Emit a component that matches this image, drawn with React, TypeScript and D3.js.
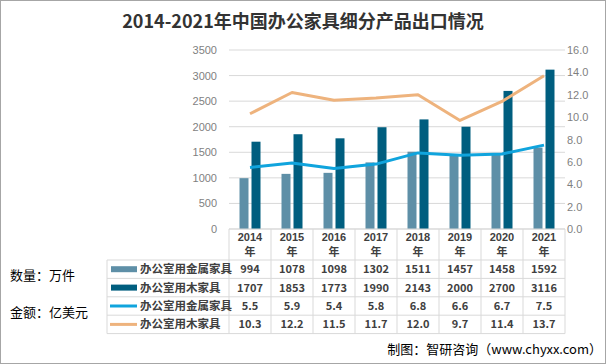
import React from 'react';
import * as d3 from 'd3';

const years = ['2014', '2015', '2016', '2017', '2018', '2019', '2020', '2021'];
const metalQty = [994, 1078, 1098, 1302, 1511, 1457, 1458, 1592];
const woodQty = [1707, 1853, 1773, 1990, 2143, 2000, 2700, 3116];
const metalValue = [5.5, 5.9, 5.4, 5.8, 6.8, 6.6, 6.7, 7.5];
const woodValue = [10.3, 12.2, 11.5, 11.7, 12.0, 9.7, 11.4, 13.7];
const leftTicks = [0, 500, 1000, 1500, 2000, 2500, 3000, 3500];
const rightTicks = [0, 2, 4, 6, 8, 10, 12, 14, 16];

const W = 606;
const H = 364;
const margin = { top: 50, left: 229, right: 41, bottom: 135 };
const plotBottom = H - margin.bottom;
const plotRight = W - margin.right;

const FONT = '"Liberation Sans", "Noto Sans CJK SC", sans-serif';
const CJK = '"Noto Sans CJK SC", sans-serif';

const cMetal = '#5E8FA7';
const cWood = '#005E7F';
const cMetalLine = '#10A4DD';
const cWoodLine = '#EEB37D';
const gridC = '#D9D9D9';

const App = () => {
	const xScale = d3.scaleBand().domain(years).range([margin.left, plotRight]);
	const yLeft = d3.scaleLinear().domain([0, 3500]).range([plotBottom, margin.top]);
	const yRight = d3.scaleLinear().domain([0, 16]).range([plotBottom, margin.top]);
	const bw = xScale.bandwidth();
	const barW = 9;
	const cx = (y: string) => xScale(y)! + bw / 2;

	const line = d3
		.line<number>()
		.x((d, i) => cx(years[i]))
		.y((d) => yRight(d));

	// table rows
	const headerBottom = 260;
	const rowH = 18.4;
	const rows = [
		{ name: '办公室用金属家具', kind: 'bar', color: cMetal, vals: metalQty.map(String) },
		{ name: '办公室用木家具', kind: 'bar', color: cWood, vals: woodQty.map(String) },
		{ name: '办公室用金属家具', kind: 'line', color: cMetalLine, vals: metalValue.map((v) => v.toFixed(1)) },
		{ name: '办公室用木家具', kind: 'line', color: cWoodLine, vals: woodValue.map((v) => v.toFixed(1)) },
	];
	const tableLeft = 107;
	const tableBottom = headerBottom + rowH * rows.length;

	return (
		<div style={{ position: 'absolute', left: 0, top: 0 }}>
			<svg width={W} height={H} style={{ display: 'block', background: '#fff' }}>
				<rect x={0.5} y={0.5} width={W - 1} height={H - 1} fill='#fff' stroke='#A6A6A6' />
				{/* title */}
				<text
					x={W / 2}
					y={28}
					textAnchor='middle'
					fontFamily={CJK}
					fontWeight='bold'
					fontSize={18}
					fill='#333'
				>
					2014-2021年中国办公家具细分产品出口情况
				</text>

				{/* gridlines */}
				{leftTicks.map((t) => (
					<line
						key={'g' + t}
						x1={margin.left}
						x2={plotRight}
						y1={yLeft(t)}
						y2={yLeft(t)}
						stroke={gridC}
					/>
				))}

				{/* left axis labels */}
				{leftTicks.map((t) => (
					<text
						key={'l' + t}
						x={217}
						y={yLeft(t) + 4}
						textAnchor='end'
						fontFamily={FONT}
						fontSize={11}
						fill='#7F7F7F'
					>
						{t}
					</text>
				))}
				{/* right axis labels */}
				{rightTicks.map((t) => (
					<text
						key={'r' + t}
						x={567}
						y={yRight(t) + 4}
						textAnchor='start'
						fontFamily={FONT}
						fontSize={11}
						fill='#7F7F7F'
					>
						{t.toFixed(1)}
					</text>
				))}

				{/* bars */}
				{years.map((y, i) => (
					<g key={'b' + y}>
						<rect
							x={cx(y) - 1.5 - barW}
							y={yLeft(metalQty[i])}
							width={barW}
							height={plotBottom - yLeft(metalQty[i])}
							fill={cMetal}
						/>
						<rect
							x={cx(y) + 1.5}
							y={yLeft(woodQty[i])}
							width={barW}
							height={plotBottom - yLeft(woodQty[i])}
							fill={cWood}
						/>
					</g>
				))}

				{/* lines */}
				<path d={line(woodValue)!} fill='none' stroke={cWoodLine} strokeWidth={3} strokeLinejoin='round' />
				<path d={line(metalValue)!} fill='none' stroke={cMetalLine} strokeWidth={3} strokeLinejoin='round' />

				{/* data table */}
				<g>
					<line x1={margin.left} x2={plotRight} y1={plotBottom} y2={plotBottom} stroke={gridC} />
					{xScale.domain().map((y) => (
						<line
							key={'v' + y}
							x1={xScale(y)}
							x2={xScale(y)}
							y1={plotBottom}
							y2={tableBottom}
							stroke={gridC}
						/>
					))}
					<line x1={plotRight} x2={plotRight} y1={plotBottom} y2={tableBottom} stroke={gridC} />
					<line x1={tableLeft} x2={tableLeft} y1={headerBottom} y2={tableBottom} stroke={gridC} />
					{d3.range(rows.length + 1).map((r) => (
						<line
							key={'h' + r}
							x1={tableLeft}
							x2={plotRight}
							y1={headerBottom + r * rowH}
							y2={headerBottom + r * rowH}
							stroke={gridC}
						/>
					))}
					{years.map((y) => (
						<g key={'yh' + y} fontWeight='bold' fontSize={11} fill='#404040'>
							<text x={cx(y)} y={240.5} textAnchor='middle' fontFamily={FONT}>
								{y}
							</text>
							<text x={cx(y)} y={256} textAnchor='middle' fontFamily={CJK}>
								年
							</text>
						</g>
					))}
					{rows.map((row, r) => {
						const mid = headerBottom + r * rowH + rowH / 2;
						return (
							<g key={'row' + r}>
								{row.kind === 'bar' ? (
									<rect x={111} y={mid - 3} width={26} height={6} fill={row.color} />
								) : (
									<line x1={110} x2={137} y1={mid} y2={mid} stroke={row.color} strokeWidth={3} />
								)}
								<text
									x={140}
									y={mid + 4}
									fontFamily={CJK}
									fontWeight='bold'
									fontSize={11.5}
									fill='#404040'
								>
									{row.name}
								</text>
								{row.vals.map((v, i) => (
									<text
										key={i}
										x={cx(years[i])}
										y={mid + 4}
										textAnchor='middle'
										fontFamily={CJK}
										fontWeight='bold'
										fontSize={11}
										fill='#404040'
									>
										{v}
									</text>
								))}
							</g>
						);
					})}
				</g>

				{/* unit labels */}
				<text x={10} y={280} fontFamily={CJK} fontSize={13} fill='#000'>
					数量：万件
				</text>
				<text x={10} y={317} fontFamily={CJK} fontSize={13} fill='#000'>
					金额：亿美元
				</text>

				{/* source */}
				<text x={602} y={354} textAnchor='end' fontFamily={CJK} fontSize={13} fill='#000'>
					制图：智研咨询（www.chyxx.com）
				</text>
			</svg>
		</div>
	);
};

export default App;
